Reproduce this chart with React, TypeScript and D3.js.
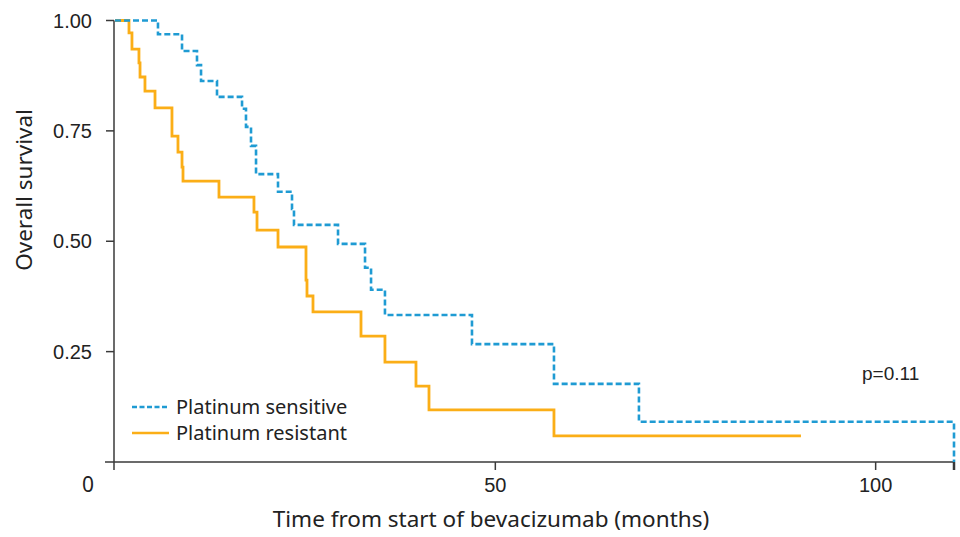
import * as d3 from "d3";
import {useEffect, useRef} from "react";

// Kaplan-Meier steps (months, survival)
const sensitiveTimes = [0, 5.65, 8.81, 10.78, 11.31, 13.41, 16.7, 17.22, 17.88, 18.54, 21.43, 23.27, 23.53, 29.32, 32.87, 33.66, 35.49, 46.93, 57.71, 68.88, 110.3];
const sensitiveSurv = [1, 0.969, 0.931, 0.899, 0.863, 0.827, 0.8, 0.759, 0.716, 0.652, 0.612, 0.573, 0.537, 0.494, 0.44, 0.39, 0.333, 0.267, 0.177, 0.091, 0];

const resistantTimes = [0, 1.84, 2.23, 3.15, 3.29, 3.94, 5.26, 7.49, 8.28, 8.81, 8.94, 13.67, 18.27, 18.67, 21.43, 25.11, 25.24, 26.03, 32.34, 35.49, 39.57, 41.28, 57.71, 90.18];
const resistantSurv = [1, 0.972, 0.935, 0.904, 0.872, 0.84, 0.802, 0.738, 0.702, 0.668, 0.636, 0.6, 0.566, 0.525, 0.487, 0.412, 0.376, 0.34, 0.285, 0.226, 0.172, 0.118, 0.059, 0.059];

const yTicks = [0.25, 0.5, 0.75, 1];
const xTicks = [50, 100];
const legendLabels = ["Platinum sensitive", "Platinum resistant"];
const pValue = "p=0.11";

const BLUE = "#1f9bd3";
const ORANGE = "#fbae17";
const AXIS = "#3a3a3a";

export default function App() {
    const svgRef = useRef(null);

    useEffect(() => {
        if (!svgRef.current) return;
        const svg = d3.select(svgRef.current);
        svg.selectAll("*").remove();

        const width = 960;
        const height = 537;

        const x = d3.scaleLinear().domain([0, 110.3]).range([115, 954]);
        const y = d3.scaleLinear().domain([0, 1]).range([462, 20.5]);

        const tickFont = "'Liberation Sans', Arial, sans-serif";
        const labelFont = "'Noto Sans', sans-serif";

        // y axis
        const yAxis = svg.append("g");
        yAxis.append("line")
            .attr("x1", x(0) - 1).attr("x2", x(0) - 1)
            .attr("y1", y(1)).attr("y2", y(0) + 8)
            .attr("stroke", AXIS).attr("stroke-width", 1.5);
        yAxis.selectAll(".yt")
            .data(yTicks)
            .join("line")
            .attr("x1", x(0) - 9).attr("x2", x(0) - 1)
            .attr("y1", d => y(d)).attr("y2", d => y(d))
            .attr("stroke", AXIS).attr("stroke-width", 1.5);
        yAxis.selectAll("text")
            .data(yTicks)
            .join("text")
            .attr("x", 92)
            .attr("y", d => y(d))
            .attr("dy", "0.36em")
            .attr("text-anchor", "end")
            .attr("font-family", tickFont)
            .attr("font-size", 20)
            .attr("fill", "#222")
            .text(d => d3.format(".2f")(d));

        // x axis
        const xAxis = svg.append("g");
        xAxis.append("line")
            .attr("x1", x(0) - 10).attr("x2", x(110.3) + 1)
            .attr("y1", y(0)).attr("y2", y(0))
            .attr("stroke", AXIS).attr("stroke-width", 1.5);
        xAxis.selectAll(".xt")
            .data([...xTicks, 110.3])
            .join("line")
            .attr("x1", d => x(d)).attr("x2", d => x(d))
            .attr("y1", y(0)).attr("y2", y(0) + 8)
            .attr("stroke", AXIS).attr("stroke-width", d => d > 100 ? 2.5 : 1.5);
        xAxis.selectAll("text")
            .data(xTicks)
            .join("text")
            .attr("x", d => x(d))
            .attr("y", 492)
            .attr("text-anchor", "middle")
            .attr("font-family", tickFont)
            .attr("font-size", 20)
            .attr("fill", "#222")
            .text(d => d);

        // shared origin label
        svg.append("text")
            .attr("x", 88).attr("y", 492)
            .attr("text-anchor", "middle")
            .attr("font-family", labelFont)
            .attr("font-size", 21)
            .attr("fill", "#222")
            .text("0");

        // axis titles
        svg.append("text")
            .attr("x", 491).attr("y", 527)
            .attr("text-anchor", "middle")
            .attr("font-family", labelFont)
            .attr("font-size", 22.5)
            .attr("fill", "#222")
            .text("Time from start of bevacizumab (months)");
        svg.append("text")
            .attr("transform", "translate(32,190) rotate(-90)")
            .attr("text-anchor", "middle")
            .attr("font-family", labelFont)
            .attr("font-size", 22.5)
            .attr("fill", "#222")
            .text("Overall survival");

        // survival curves
        const line = d3.line()
            .x(d => x(d[0]))
            .y(d => y(d[1]))
            .curve(d3.curveStepAfter);

        const sensitive = sensitiveTimes.map((t, i) => [t, sensitiveSurv[i]]);
        const resistant = resistantTimes.map((t, i) => [t, resistantSurv[i]]);

        svg.append("path")
            .attr("d", line(resistant))
            .attr("fill", "none")
            .attr("stroke", ORANGE)
            .attr("stroke-width", 2.8);

        svg.append("path")
            .attr("d", line(sensitive))
            .attr("fill", "none")
            .attr("stroke", BLUE)
            .attr("stroke-width", 2.6)
            .attr("stroke-dasharray", "6,3");

        // legend
        const legend = svg.append("g");
        const rows = [
            {label: legendLabels[0], color: BLUE, dash: "5,2.5", y: 407},
            {label: legendLabels[1], color: ORANGE, dash: null, y: 433},
        ];
        rows.forEach(r => {
            legend.append("line")
                .attr("x1", 132).attr("x2", 169)
                .attr("y1", r.y).attr("y2", r.y)
                .attr("stroke", r.color)
                .attr("stroke-width", 2.6)
                .attr("stroke-dasharray", r.dash);
            legend.append("text")
                .attr("x", 176).attr("y", r.y)
                .attr("dy", "0.36em")
                .attr("font-family", labelFont)
                .attr("font-size", 20)
                .attr("fill", "#222")
                .text(r.label);
        });

        // p value
        svg.append("text")
            .attr("x", 862).attr("y", 373)
            .attr("dy", "0.36em")
            .attr("font-family", tickFont)
            .attr("font-size", 19)
            .attr("fill", "#222")
            .text(pValue);

        svg.attr("width", width).attr("height", height);
    }, []);

    return (
        <svg
            ref={svgRef}
            width={960}
            height={537}
            style={{position: "absolute", left: 0, top: 0, background: "#fff"}}
        ></svg>
    );
}
